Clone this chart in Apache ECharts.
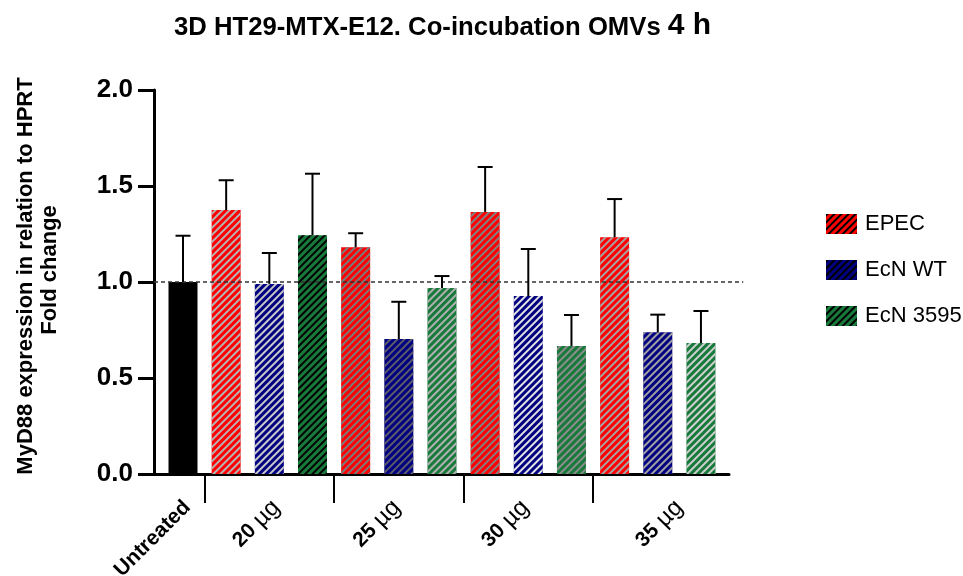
<!DOCTYPE html>
<html>
<head>
<meta charset="utf-8">
<script src="https://cdn.jsdelivr.net/npm/echarts@6/dist/echarts.min.js"></script>
<style>html,body{margin:0;padding:0;background:#fff;}#c{width:963px;height:576px;}</style>
</head>
<body>
<div id="c"></div>
<script>
// ---- data ----
const groupLabels = ['Untreated', '20', '25', '30', '35'];
const seriesNames = ['EPEC', 'EcN WT', 'EcN 3595'];
const untreatedMean = [1.0];
const untreatedErr = [1.241];
const epecMean = [1.375, 1.181, 1.365, 1.233];
const epecErr = [1.530, 1.254, 1.599, 1.432];
const wtMean = [0.990, 0.703, 0.927, 0.738];
const wtErr = [1.151, 0.897, 1.172, 0.830];
const s3595Mean = [1.243, 0.969, 0.667, 0.682];
const s3595Err = [1.564, 1.031, 0.828, 0.849];
const yTicks = [0, 0.5, 1.0, 1.5, 2.0];

// ---- styles ----
const FONT = '"Liberation Sans", Arial, Helvetica, sans-serif';
const colors = { untreated: '#000000', EPEC: '#ff0000', 'EcN WT': '#000080', 'EcN 3595': '#177a3b' };
const stripeColors = {
  EPEC: ['#b4b4b4', '#7a7a7a', '#808080', '#a4a4a4'],
  'EcN WT': ['#c8c8c8', '#5c5c6a', '#e2e2e2', '#a0a0a0'],
  'EcN 3595': ['#000000', '#b0b0b0', '#8c8c8c', '#d0d0d0']
};
function decal(color) {
  return { symbol: 'rect', symbolSize: 1, dashArrayX: [1, 0], dashArrayY: [2, 3], rotation: -Math.PI / 4, color: color };
}
const labelPos = [0.1, 2.16, 4.95, 7.93, 11.5];
const groupTicks = [0.5, 3.5, 6.5, 9.5];
const X_MIN = -0.672, X_MAX = 12.65;

function posOf(seriesIdx, g) { return 1 + 3 * g + seriesIdx; }

const means = { EPEC: epecMean, 'EcN WT': wtMean, 'EcN 3595': s3595Mean };
const errs = { EPEC: epecErr, 'EcN WT': wtErr, 'EcN 3595': s3595Err };

const barSeries = seriesNames.map((name, si) => ({
  name: name,
  type: 'bar',
  barWidth: 29,
  barGap: '-100%',
  itemStyle: { color: colors[name], decal: decal('#000') },
  data: means[name].map((v, g) => ({
    value: [posOf(si, g), v],
    itemStyle: { decal: decal(stripeColors[name][g]) }
  })),
  z: 2
}));

const errData = [[0, untreatedMean[0], untreatedErr[0]]];
seriesNames.forEach((name, si) => {
  means[name].forEach((v, g) => errData.push([posOf(si, g), v, errs[name][g]]));
});

const chart = echarts.init(document.getElementById('c'));
chart.setOption({
  animation: false,
  backgroundColor: '#fff',
  title: {
    left: 169, top: 0,
    text: '{a|3D HT29-MTX-E12. Co-incubation OMVs }{b|4 h}',
    textStyle: {
      rich: {
        a: { fontFamily: FONT, fontSize: 25.7, fontWeight: 'bold', color: '#000', verticalAlign: 'bottom', lineHeight: 36 },
        b: { fontFamily: FONT, fontSize: 30, fontWeight: 'bold', color: '#000', verticalAlign: 'bottom', lineHeight: 36 }
      }
    }
  },
  legend: {
    orient: 'vertical', left: 821, top: 208,
    itemWidth: 31, itemHeight: 20, itemGap: 24,
    icon: 'rect',
    data: seriesNames,
    textStyle: { fontFamily: FONT, fontSize: 22, color: '#000', padding: [0, 0, 0, 3] }
  },
  grid: { left: 154, right: 234, top: 90, bottom: 102, containLabel: false, outerBoundsMode: 'none' },
  xAxis: {
    type: 'value', min: X_MIN, max: X_MAX,
    splitLine: { show: false },
    axisLine: { show: true, onZero: false, lineStyle: { color: '#000', width: 3 } },
    axisTick: { show: true, customValues: groupTicks, length: 29, lineStyle: { color: '#000', width: 2 } },
    axisLabel: {
      show: true, customValues: labelPos, rotate: 45, margin: 30,
      formatter: function (v) {
        let idx = 0, best = 1e9;
        labelPos.forEach((p, i) => { if (Math.abs(p - v) < best) { best = Math.abs(p - v); idx = i; } });
        return idx === 0 ? '{b|' + groupLabels[0] + '}' : '{b|' + groupLabels[idx] + ' }{r|µg}';
      },
      rich: {
        b: { fontFamily: FONT, fontSize: 21, fontWeight: 'bold', color: '#000' },
        r: { fontFamily: FONT, fontSize: 24, fontWeight: 'normal', color: '#000' }
      }
    }
  },
  yAxis: {
    type: 'value', min: 0, max: 2, interval: 0.5,
    splitLine: { show: false },
    axisLine: { show: true, onZero: false, lineStyle: { color: '#000', width: 3 } },
    axisTick: { show: true, inside: false, length: 16, lineStyle: { color: '#000', width: 3 } },
    axisLabel: {
      margin: 21, fontFamily: FONT, fontSize: 26, fontWeight: 'bold', color: '#000',
      formatter: v => v.toFixed(1)
    }
  },
  graphic: [
    { type: 'text', x: 26, y: 276, rotation: Math.PI / 2,
      style: { text: 'MyD88 expression in relation to HPRT', font: 'bold 22px ' + FONT, fill: '#000', textAlign: 'center', textVerticalAlign: 'middle' } },
    { type: 'text', x: 50, y: 270, rotation: Math.PI / 2,
      style: { text: 'Fold change', font: 'bold 22px ' + FONT, fill: '#000', textAlign: 'center', textVerticalAlign: 'middle' } }
  ],
  series: [
    {
      name: 'Untreated', type: 'bar', barWidth: 29, barGap: '-100%',
      itemStyle: { color: colors.untreated },
      data: untreatedMean.map(v => [0, v]), z: 2
    },
    ...barSeries,
    {
      type: 'custom', name: 'ref', clip: false, z: 5, silent: true,
      data: [[1.0]],
      renderItem: function (params, api) {
        const y = api.value(0);
        const p1 = api.coord([X_MIN, y]);
        const p2 = api.coord([12.98, y]);
        return { type: 'line', shape: { x1: p1[0], y1: p1[1], x2: p2[0], y2: p2[1] },
          style: { stroke: '#333', lineWidth: 1.5, lineDash: [4, 3] } };
      }
    },
    {
      type: 'custom', name: 'err', z: 6, silent: true,
      data: errData,
      renderItem: function (params, api) {
        const x = api.value(0);
        const top = api.coord([x, api.value(1)]);
        const e = api.coord([x, api.value(2)]);
        const hw = 7.5;
        return { type: 'group', children: [
          { type: 'line', shape: { x1: top[0], y1: top[1], x2: e[0], y2: e[1] }, style: { stroke: '#000', lineWidth: 2 } },
          { type: 'line', shape: { x1: e[0] - hw, y1: e[1], x2: e[0] + hw, y2: e[1] }, style: { stroke: '#000', lineWidth: 2 } }
        ] };
      }
    }
  ]
});
</script>
</body>
</html>
